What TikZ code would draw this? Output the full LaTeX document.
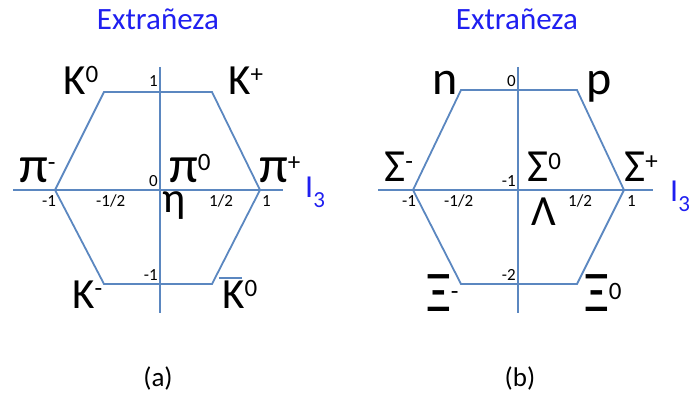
\documentclass[tikz,border=0pt]{standalone}
\usepackage{fontspec}
\setmainfont{Carlito}
\usepackage{graphicx}
\definecolor{axisblue}{HTML}{5B87C0}
\definecolor{txtblue}{HTML}{1F1FF0}
\newcommand\supx[1]{\raisebox{12pt}{\fontsize{25}{25}\selectfont #1}}
\newcommand\subx[1]{\raisebox{-10pt}{\fontsize{23}{23}\selectfont #1}}
\newcommand\tallxi{\scalebox{1}[1.15]{Ξ}}
\begin{document}
\begin{tikzpicture}[x=1pt,y=-1pt,
  hexline/.style={draw=axisblue,line width=1.8pt,line join=miter},
  axisline/.style={draw=axisblue,line width=1.8pt},
  big/.style={inner sep=0,anchor=base west,font=\fontsize{43}{43}\selectfont},
  sigbig/.style={big,font=\fontsize{46}{46}\selectfont},
  pibig/.style={big,text depth=0pt,font=\fontsize{52}{52}\selectfont},
  lowbig/.style={big,font=\fontsize{48}{48}\selectfont},
  xibig/.style={big,font=\fontsize{50}{50}\selectfont},
  ticklab/.style={inner sep=0,font=\fontsize{17}{17}\selectfont},
  titlelab/.style={inner sep=0,anchor=base,text=txtblue,font=\fontsize{31}{31}\selectfont},
  ilab/.style={inner sep=0,anchor=base west,text=txtblue,font=\fontsize{32}{32}\selectfont},
  caplab/.style={inner sep=0,anchor=base,font=\fontsize{27}{27}\selectfont}]
\useasboundingbox (0,0) rectangle (689,398);
% ---------- (a) ----------
\coordinate (a1) at (104,92);
\coordinate (a2) at (212,92);
\coordinate (a3) at (260,190);
\coordinate (a4) at (212,284);
\coordinate (a5) at (104,284);
\coordinate (a6) at (55,190);
\coordinate (axL) at (13,190);
\coordinate (axR) at (283,190);
\coordinate (ayT) at (160,67);
\coordinate (ayB) at (160,313);
\draw[axisline] (axL) -- (axR);
\draw[axisline] (ayT) -- (ayB);
\draw[hexline] (a1) -- (a2) -- (a3) -- (a4) -- (a5) -- (a6) -- cycle;
\node[titlelab] (ta) at (158,30) {Extrañeza};
\node[big] (K0) at (63,95) {K\supx{0}};
\node[big] (Kp) at (228,95) {K\supx{+}};
\node[pibig] (pim) at (19,183) {π\supx{-}};
\node[pibig] (pi0) at (169,183) {π\supx{0}};
\node[pibig] (pip) at (259,183) {π\supx{+}};
\node[big,text height=18pt] (eta) at (162,213) {η};
\node[big] (Km) at (72,309) {K\supx{-}};
\node[big] (Kb) at (222,309) {K\supx{0}};
\coordinate (barL) at (219,278);
\coordinate (barR) at (242,278);
\draw[axisblue,line width=1.5pt] (barL) -- (barR);
\node[ilab] (I3a) at (305,198) {I\subx{3}};
\node[ticklab,anchor=base east] (ta1) at (158,87) {1};
\node[ticklab,anchor=base east] (ta0) at (158,187) {0};
\node[ticklab,anchor=base east] (tam1) at (158,281) {-1};
\node[ticklab,anchor=base west] (tl1) at (42,207) {-1};
\node[ticklab,anchor=base west] (tlh) at (96,207) {-1/2};
\node[ticklab,anchor=base west] (trh) at (209,207) {1/2};
\node[ticklab,anchor=base west] (tr1) at (262,207) {1};
\node[caplab] (capa) at (158,387) {(a)};
% ---------- (b) ----------
\coordinate (b1) at (461,90);
\coordinate (b2) at (577,90);
\coordinate (b3) at (624,190);
\coordinate (b4) at (577,284);
\coordinate (b5) at (461,284);
\coordinate (b6) at (413,190);
\coordinate (bxL) at (378,190);
\coordinate (bxR) at (653,190);
\coordinate (byT) at (518,67);
\coordinate (byB) at (518,313);
\draw[axisline] (bxL) -- (bxR);
\draw[axisline] (byT) -- (byB);
\draw[hexline] (b1) -- (b2) -- (b3) -- (b4) -- (b5) -- (b6) -- cycle;
\node[titlelab] (tb) at (517,30) {Extrañeza};
\node[lowbig] (nn) at (432,95) {n};
\node[lowbig] (pp) at (586,95) {p};
\node[sigbig] (Sm) at (384,182) {Σ\supx{-}};
\node[sigbig] (S0) at (527,182) {Σ\supx{0}};
\node[sigbig] (Sp) at (624,182) {Σ\supx{+}};
\node[big] (La) at (531,226) {Λ};
\node[xibig] (Xm) at (426,312) {\tallxi\supx{-}};
\node[xibig] (X0) at (584,312) {\tallxi\supx{0}};
\node[ilab] (I3b) at (670,202) {I\subx{3}};
\node[ticklab,anchor=base east] (tb0) at (516,87) {0};
\node[ticklab,anchor=base east] (tbm1) at (516,187) {-1};
\node[ticklab,anchor=base east] (tbm2) at (516,281) {-2};
\node[ticklab,anchor=base west] (bl1) at (402,207) {-1};
\node[ticklab,anchor=base west] (blh) at (444,207) {-1/2};
\node[ticklab,anchor=base west] (brh) at (568,207) {1/2};
\node[ticklab,anchor=base west] (br1) at (627,207) {1};
\node[caplab] (capb) at (520,387) {(b)};
\end{tikzpicture}
\end{document}
